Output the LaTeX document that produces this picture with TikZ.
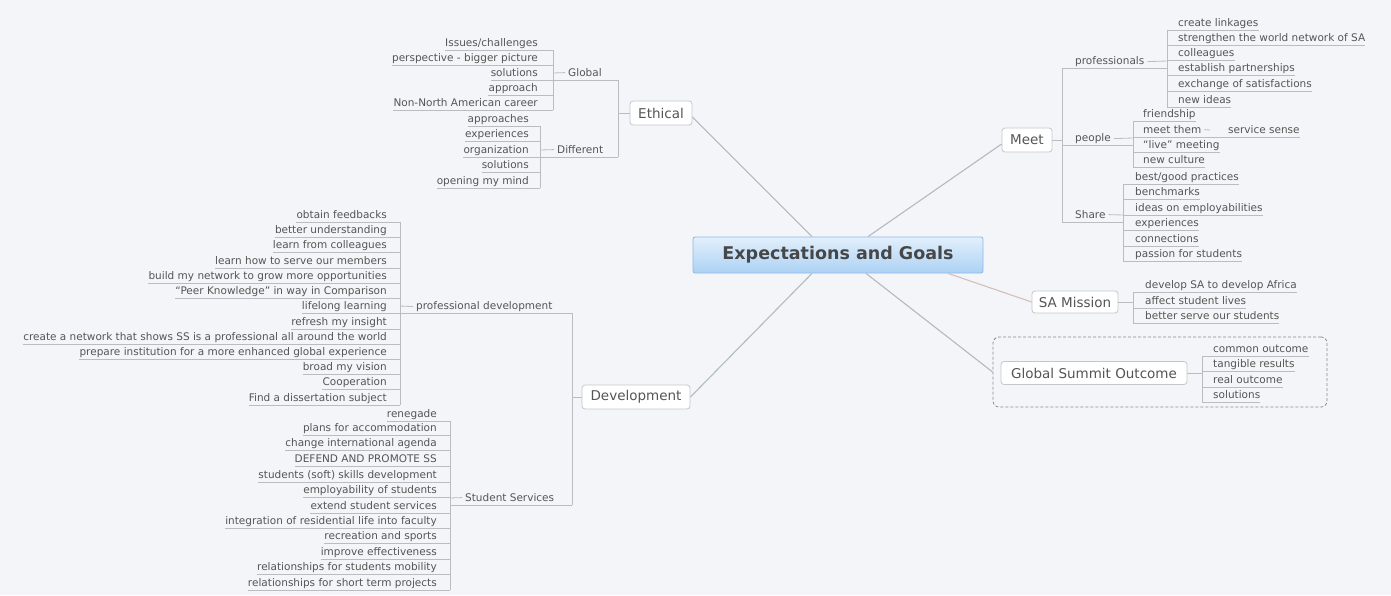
\documentclass[tikz,border=0pt]{standalone}
\usepackage{fontspec}
\setmainfont{DejaVu Sans}
\usetikzlibrary{calc}
\definecolor{bg}{HTML}{F3F5F8}
\definecolor{txt}{HTML}{555555}
\definecolor{ln}{HTML}{B9BDC2}
\definecolor{conn}{HTML}{B2BAC2}
\definecolor{rose}{HTML}{D8BDBD}
\definecolor{boxln}{HTML}{C4C8CC}
\definecolor{ctop}{HTML}{E2EFFC}
\definecolor{cbot}{HTML}{ACD2F4}
\definecolor{cln}{HTML}{8DB9E6}
\tikzset{
  leaf/.style={font=\fontsize{10.5}{12}\selectfont, text=txt, inner sep=0pt},
  uline/.style={draw=ln, line width=0.8pt},
  topic/.style={draw=boxln, fill=white, rounded corners=3pt, line width=0.8pt,
    font=\fontsize{13.5}{15}\selectfont, text=txt, inner sep=0pt, minimum height=24pt},
  cline/.style={draw=conn, line width=1.1pt},
  mainbox/.style={draw=cln, top color=ctop, bottom color=cbot, rounded corners=2pt,
    line width=0.8pt, font=\fontsize{17.5}{20}\selectfont\bfseries, text=black!72,
    minimum width=290pt, minimum height=36pt, inner sep=0pt},
  boundary/.style={draw=black!45, dashed, dash pattern=on 3pt off 2pt, rounded corners=6pt, line width=0.8pt}
}
% left leaf: name, bracketX, rightX, Y, text
\newcommand\mmL[5]{%
  \node[leaf, anchor=base east] (#1) at (#3,#4+3.5) {#5};
  \coordinate (#1u) at (#2,#4+7);
  \draw[uline] ([yshift=-3.5pt]#1.base west) -- (#1u);}
% right leaf: name, bracketX, leftX, Y, text
\newcommand\mmR[5]{%
  \node[leaf, anchor=base west] (#1) at (#3,#4+3.5) {#5};
  \coordinate (#1u) at (#2,#4+7);
  \draw[uline] (#1u) -- ([yshift=-3.5pt]#1.base east);}
% left parent: name, childBracketX, parentBracketX, leftX, Y, text
\newcommand\mmPL[6]{%
  \node[leaf, anchor=base west] (#1) at (#4,#5+3.5) {#6};
  \coordinate (#1u) at (#3,#5+7);
  \coordinate (#1c) at (#2,#5+7);
  \coordinate (#1b) at (#2,#5);
  \draw[uline] (#1c) -- (#1u);
  \draw[uline] (#1b) -- ([xshift=-3pt]#1.west);}
% right parent: name, childBracketX, parentBracketX, leftX, Y, text
\newcommand\mmPR[6]{%
  \node[leaf, anchor=base west] (#1) at (#4,#5+3.5) {#6};
  \coordinate (#1u) at (#3,#5+7);
  \coordinate (#1c) at (#2,#5+7);
  \coordinate (#1b) at (#2,#5);
  \draw[uline] (#1u) -- (#1c);
  \draw[uline] ([xshift=3pt]#1.east) -- (#1b);}
\begin{document}
\begin{tikzpicture}[x=1pt,y=-1pt]
\useasboundingbox (0,0) rectangle (1391,595);
\fill[bg] (0,0) rectangle (1391,595);

% ---------- centre ----------
\node[mainbox] (center) at (838,255) {Expectations and Goals};

% ---------- Ethical ----------
\node[topic, minimum width=62pt] (eth) at (661,113) {Ethical};
\coordinate (ethb) at (618,113);
\draw[uline] (ethb) -- (eth.west);
\mmPL{glob}{553}{618}{568}{73}{Global}
\mmL{g1}{553}{538}{43}{Issues/challenges}
\mmL{g2}{553}{538}{58}{perspective - bigger picture}
\mmL{g3}{553}{538}{73}{solutions}
\mmL{g4}{553}{538}{88}{approach}
\mmL{g5}{553}{538}{103}{Non-North American career}
\draw[uline] (g1u) -- (g5u);
\mmPL{diff}{540}{618}{557}{150}{Different}
\mmL{d1}{540}{529}{119}{approaches}
\mmL{d2}{540}{529}{134}{experiences}
\mmL{d3}{540}{529}{150}{organization}
\mmL{d4}{540}{529}{165}{solutions}
\mmL{d5}{540}{529}{181}{opening my mind}
\draw[uline] (d1u) -- (d5u);
\draw[uline] (globu) -- (diffu);

% ---------- Development ----------
\node[topic, minimum width=108pt] (dev) at (636,397) {Development};
\coordinate (devb) at (572,397);
\draw[uline] (devb) -- (dev.west);
\mmPL{pd}{400}{572}{416}{306}{professional development}
\mmL{p1}{400}{387}{215}{obtain feedbacks}
\mmL{p2}{400}{387}{230}{better understanding}
\mmL{p3}{400}{387}{245}{learn from colleagues}
\mmL{p4}{400}{387}{261}{learn how to serve our members}
\mmL{p5}{400}{387}{276}{build my network to grow more opportunities}
\mmL{p6}{400}{387}{291}{“Peer Knowledge” in way in Comparison}
\mmL{p7}{400}{387}{306}{lifelong learning}
\mmL{p8}{400}{387}{322}{refresh my insight}
\mmL{p9}{400}{387}{337}{create a network that shows SS is a professional all around the world}
\mmL{p10}{400}{387}{352}{prepare institution for a more enhanced global experience}
\mmL{p11}{400}{387}{367}{broad my vision}
\mmL{p12}{400}{387}{382}{Cooperation}
\mmL{p13}{400}{387}{398}{Find a dissertation subject}
\draw[uline] (p1u) -- (p13u);
\mmPL{ss}{450}{572}{465}{498}{Student Services}
\mmL{s1}{450}{437}{414}{renegade}
\mmL{s2}{450}{437}{428}{plans for accommodation}
\mmL{s3}{450}{437}{443}{change international agenda}
\mmL{s4}{450}{437}{459}{DEFEND AND PROMOTE SS}
\mmL{s5}{450}{437}{475}{students (soft) skills development}
\mmL{s6}{450}{437}{490}{employability of students}
\mmL{s7}{450}{437}{506}{extend student services}
\mmL{s8}{450}{437}{521}{integration of residential life into faculty}
\mmL{s9}{450}{437}{536}{recreation and sports}
\mmL{s10}{450}{437}{552}{improve effectiveness}
\mmL{s11}{450}{437}{567}{relationships for students mobility}
\mmL{s12}{450}{437}{583}{relationships for short term projects}
\draw[uline] (s1u) -- (s12u);
\draw[uline] (pdu) -- (ssu);

% ---------- Meet ----------
\node[topic, minimum width=50pt] (meet) at (1027,140) {Meet};
\coordinate (meetb) at (1062,140);
\draw[uline] (meet.east) -- (meetb);
\mmPR{pro}{1167}{1062}{1075}{61}{professionals}
\mmR{r1}{1167}{1178}{23}{create linkages}
\mmR{r2}{1167}{1178}{38}{strengthen the world network of SA}
\mmR{r3}{1167}{1178}{53}{colleagues}
\mmR{r4}{1167}{1178}{68}{establish partnerships}
\mmR{r5}{1167}{1178}{84}{exchange of satisfactions}
\mmR{r6}{1167}{1178}{100}{new ideas}
\draw[uline] (r1u) -- (r6u);
\mmPR{peo}{1133}{1062}{1075}{138}{people}
\mmR{q1}{1133}{1143}{114}{friendship}
\node[leaf, anchor=base west] (q2) at (1143,133.5) {meet them};
\coordinate (q2u) at (1133,137);
\coordinate (q2c) at (1210,137);
\coordinate (q2b) at (1210,130);
\draw[uline] (q2u) -- (q2c);
\draw[uline] ([xshift=3pt]q2.east) -- (q2b);
\mmR{q2a}{1210}{1228}{130}{service sense}
\mmR{q3}{1133}{1143}{145}{“live” meeting}
\mmR{q4}{1133}{1143}{160}{new culture}
\draw[uline] (q1u) -- (q4u);
\mmPR{sh}{1123}{1062}{1075}{215}{Share}
\mmR{t1}{1123}{1135}{177}{best/good practices}
\mmR{t2}{1123}{1135}{192}{benchmarks}
\mmR{t3}{1123}{1135}{208}{ideas on employabilities}
\mmR{t4}{1123}{1135}{223}{experiences}
\mmR{t5}{1123}{1135}{239}{connections}
\mmR{t6}{1123}{1135}{254}{passion for students}
\draw[uline] (t1u) -- (t6u);
\draw[uline] (prou) -- (shu);

% ---------- SA Mission ----------
\node[topic, minimum width=86pt, minimum height=22pt] (sa) at (1075,302) {SA Mission};
\coordinate (sab) at (1133,302);
\draw[uline] (sa.east) -- (sab);
\mmR{a1}{1133}{1145}{285}{develop SA to develop Africa}
\mmR{a2}{1133}{1145}{301}{affect student lives}
\mmR{a3}{1133}{1145}{316}{better serve our students}
\draw[uline] (a1u) -- (a3u);

% ---------- Global Summit Outcome ----------
\node[boundary, minimum width=334pt, minimum height=70pt, inner sep=0pt] (gsobox) at (1160,372) {};
\node[topic, minimum width=186pt, minimum height=23pt] (gso) at (1094,373) {Global Summit Outcome};
\coordinate (gsob) at (1202,373);
\draw[uline] (gso.east) -- (gsob);
\mmR{o1}{1202}{1213}{349}{common outcome}
\mmR{o2}{1202}{1213}{364}{tangible results}
\mmR{o3}{1202}{1213}{380}{real outcome}
\mmR{o4}{1202}{1213}{395}{solutions}
\draw[uline] (o1u) -- (o4u);

% ---------- connectors from centre ----------
\draw[cline] ([xshift=-26pt]center.north) -- ([yshift=-4pt]eth.east);
\draw[cline] ([xshift=-26pt]center.south) -- (dev.east);
\draw[cline] ([xshift=30pt]center.north) -- ([yshift=-4pt]meet.west);
\draw[cline, draw=rose] ([xshift=110pt]center.south) -- (sa.west);
\draw[cline] ([xshift=28pt]center.south) -- (gsobox.west);
\end{tikzpicture}
\end{document}
